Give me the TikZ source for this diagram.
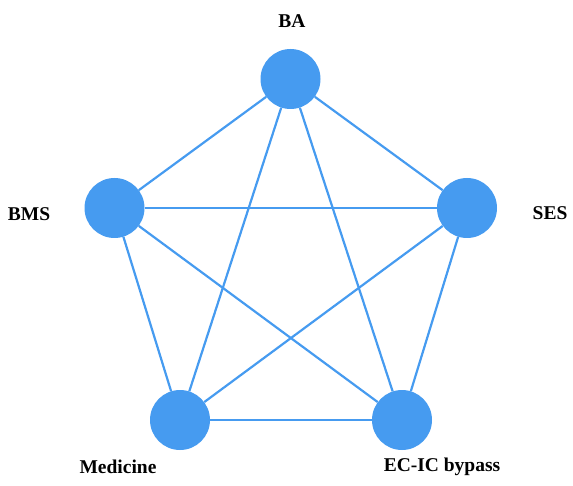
\documentclass[tikz,border=0pt]{standalone}
\usepackage{fontspec}
\setmainfont{Liberation Serif}
\definecolor{netblue}{RGB}{70,155,240}
\begin{document}
\begin{tikzpicture}[x=1pt, y=-1pt,
    trt/.style={circle, fill=netblue, minimum size=60pt, inner sep=0pt},
    lbl/.style={font=\fontsize{19.5}{22}\selectfont\bfseries},
    link/.style={draw=netblue, line width=2.2pt}]
    \useasboundingbox (0,0) rectangle (573,486);

    \node[trt] (ba)  at (290.5,79) {};
    \node[trt] (bms) at (114.5,208) {};
    \node[trt] (ses) at (467,208) {};
    \node[trt] (med) at (180,420) {};
    \node[trt] (ecic) at (402,420) {};

    \node[lbl] (tba)   at (292,21)  {BA};
    \node[lbl] (tbms)  at (29,214)  {BMS};
    \node[lbl] (tses)  at (550,213) {SES};
    \node[lbl] (tmed)  at (118,467) {Medicine};
    \node[lbl] (tecic) at (442,467) {EC-IC bypass};

    \draw[link] (ba) -- (bms);
    \draw[link] (ba) -- (ses);
    \draw[link] (ba) -- (med);
    \draw[link] (ba) -- (ecic);
    \draw[link] (bms) -- (ses);
    \draw[link] (bms) -- (med);
    \draw[link] (bms) -- (ecic);
    \draw[link] (ses) -- (med);
    \draw[link] (ses) -- (ecic);
    \draw[link] (med) -- (ecic);
\end{tikzpicture}
\end{document}
